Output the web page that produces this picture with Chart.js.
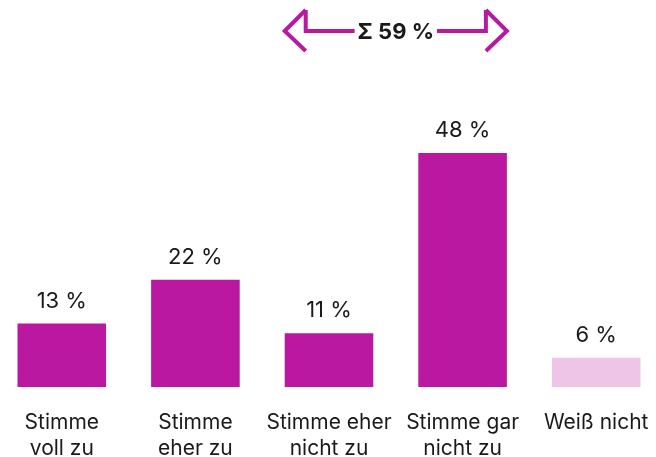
<!DOCTYPE html>
<html>
<head>
<meta charset="utf-8">
<script src="https://cdn.jsdelivr.net/npm/chart.js@4"></script>
<style>
  html, body { margin: 0; padding: 0; background: #fff; overflow: hidden; }
  #wrap { position: absolute; left: -5px; top: 0; width: 668px; height: 485px; }
</style>
</head>
<body>
<div id="wrap"><canvas id="chart"></canvas></div>
<script>
const CATEGORIES = [
    ['Stimme', 'voll zu'],
    ['Stimme', 'eher zu'],
    ['Stimme eher', 'nicht zu'],
    ['Stimme gar', 'nicht zu'],
    ['Weiß nicht'],
];
const VALUES = [13, 22, 11, 48, 6];
const BAR_COLORS = ['#ba18a0', '#ba18a0', '#ba18a0', '#ba18a0', '#eec4e7'];
const SUM_LABEL = 'Σ 59 %';
const SUM_FROM = 2;   // index of first bar in the sum bracket
const SUM_TO = 3;     // index of last bar

const FONT = 'Inter, "Noto Sans", sans-serif';

// value labels above the bars
const valueLabels = {
    id: 'valueLabels',
    afterDatasetsDraw(chart) {
        const ctx = chart.ctx;
        const meta = chart.getDatasetMeta(0);
        ctx.save();
        ctx.font = '22px ' + FONT;
        ctx.fillStyle = '#1a1a1a';
        ctx.textAlign = 'center';
        ctx.textBaseline = 'alphabetic';
        meta.data.forEach((bar, i) => {
            ctx.fillText(VALUES[i] + ' %', bar.x, bar.y - 16);
        });
        ctx.restore();
    }
};

// the double arrow with the sum on top
const sumArrow = {
    id: 'sumArrow',
    afterDatasetsDraw(chart) {
        const ctx = chart.ctx;
        const meta = chart.getDatasetMeta(0);
        const a = meta.data[SUM_FROM], b = meta.data[SUM_TO];
        const left = a.x - a.width / 2;
        const right = b.x + b.width / 2;
        const midY = 31;
        const head = 21;
        const topY = 10, botY = 51;

        ctx.save();
        ctx.font = 'bold 22px ' + FONT;
        const tw = ctx.measureText(SUM_LABEL).width;
        const cx = (left + right) / 2;

        ctx.strokeStyle = '#ba18a0';
        ctx.lineWidth = 4;
        ctx.lineJoin = 'miter';
        ctx.lineCap = 'butt';

        // left part
        ctx.beginPath();
        ctx.moveTo(left + head, topY);
        ctx.lineTo(left, midY);
        ctx.lineTo(left + head, botY);
        ctx.stroke();
        ctx.beginPath();
        ctx.moveTo(left + head, topY);
        ctx.lineTo(left + head, midY);
        ctx.lineTo(cx - tw / 2 - 3, midY);
        ctx.stroke();

        // right part
        ctx.beginPath();
        ctx.moveTo(right - head, topY);
        ctx.lineTo(right, midY);
        ctx.lineTo(right - head, botY);
        ctx.stroke();
        ctx.beginPath();
        ctx.moveTo(right - head, topY);
        ctx.lineTo(right - head, midY);
        ctx.lineTo(cx + tw / 2 + 3, midY);
        ctx.stroke();

        ctx.fillStyle = '#1a1a1a';
        ctx.textAlign = 'center';
        ctx.textBaseline = 'middle';
        ctx.fillText(SUM_LABEL, cx, midY + 1);
        ctx.restore();
    }
};

new Chart(document.getElementById('chart'), {
    type: 'bar',
    data: {
        labels: CATEGORIES,
        datasets: [{
            data: VALUES,
            backgroundColor: BAR_COLORS,
            borderWidth: 0,
            categoryPercentage: 1,
            barPercentage: 0.663,
        }],
    },
    options: {
        responsive: true,
        maintainAspectRatio: false,
        animation: false,
        layout: { padding: 0 },
        plugins: { legend: { display: false }, tooltip: { enabled: false } },
        scales: {
            x: {
                grid: { display: false, drawTicks: false },
                border: { display: false },
                ticks: {
                    color: '#1a1a1a',
                    font: { family: FONT, size: 21, lineHeight: 1.24 },
                    padding: 23,
                    maxRotation: 0,
                    autoSkip: false,
                },
                // labels may run past the edges, don't shrink the plot for them
                afterFit(scale) {
                    scale.paddingLeft = 0;
                    scale.paddingRight = 0;
                },
            },
            y: {
                display: false,
                min: 0,
                max: 79.4,
            },
        },
    },
    plugins: [valueLabels, sumArrow],
});
</script>
</body>
</html>
